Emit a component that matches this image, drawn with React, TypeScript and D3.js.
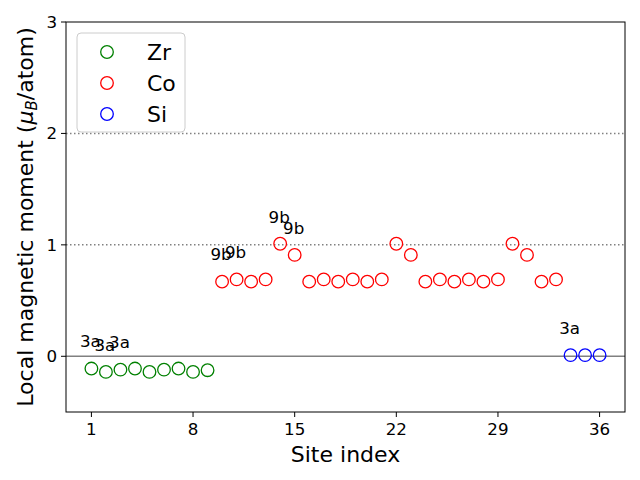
import React from 'react';
import * as d3 from 'd3';

// site indices and local magnetic moments (mu_B/atom)
const zrSites = [1, 2, 3, 4, 5, 6, 7, 8, 9];
const zrMoments = [-0.11, -0.14, -0.12, -0.11, -0.14, -0.12, -0.11, -0.14, -0.125];
const coSites = [10, 11, 12, 13, 14, 15, 16, 17, 18, 19, 20, 21, 22, 23, 24, 25, 26, 27, 28, 29, 30, 31, 32, 33];
const coMoments = [
  0.67, 0.69, 0.67, 0.69, 1.01, 0.91, 0.67, 0.69, 0.67, 0.69, 0.67, 0.69,
  1.01, 0.91, 0.67, 0.69, 0.67, 0.69, 0.67, 0.69, 1.01, 0.91, 0.67, 0.69,
];
const siSites = [34, 35, 36];
const siMoments = [0.01, 0.01, 0.01];

// Wyckoff labels attached to a few sites
const labelSites = [1, 2, 3, 10, 11, 14, 15, 34];
const labelTexts = ['3a', '3a', '3a', '9b', '9b', '9b', '9b', '3a'];

const xTicks = [1, 8, 15, 22, 29, 36];
const yTicks = [0, 1, 2, 3];
const refLines = [1, 2];

const seriesNames = ['Zr', 'Co', 'Si'];
const seriesColors = ['green', 'red', 'blue'];

const W = 640,
  H = 480;
const margin = { top: 22, right: 15, bottom: 68, left: 66 };
const font = 'DejaVu Sans, sans-serif';

export default function App() {
  const x = d3.scaleLinear().domain([-0.75, 37.75]).range([margin.left, W - margin.right]);
  const y = d3.scaleLinear().domain([-0.5, 3]).range([H - margin.bottom, margin.top]);

  const series = [
    { sites: zrSites, vals: zrMoments },
    { sites: coSites, vals: coMoments },
    { sites: siSites, vals: siMoments },
  ];
  const allSites = [...zrSites, ...coSites, ...siSites];
  const allVals = [...zrMoments, ...coMoments, ...siMoments];

  const x0 = margin.left,
    x1 = W - margin.right,
    y0 = margin.top,
    y1 = H - margin.bottom;

  return (
    <svg
      width={W}
      height={H}
      style={{ position: 'absolute', left: 0, top: 0, background: '#fff' }}
      fontFamily={font}
    >
      {/* reference lines */}
      <line x1={x0} x2={x1} y1={y(0)} y2={y(0)} stroke="gray" strokeWidth={1.5} />
      {refLines.map((v) => (
        <line
          key={v}
          x1={x0}
          x2={x1}
          y1={y(v)}
          y2={y(v)}
          stroke="gray"
          strokeWidth={1.5}
          strokeDasharray="1.5,2.5"
        />
      ))}

      {/* points */}
      {series.map((s, i) =>
        s.sites.map((site, j) => (
          <circle
            key={i + '-' + j}
            cx={x(site)}
            cy={y(s.vals[j])}
            r={6.3}
            fill="none"
            stroke={seriesColors[i]}
            strokeWidth={1.3}
          />
        )),
      )}

      {/* site labels */}
      {labelSites.map((site, i) => {
        const v = allVals[allSites.indexOf(site)];
        return (
          <text key={'l' + i} x={x(site) - 1} y={y(v + 0.19)} fontSize={16.7} textAnchor="middle">
            {labelTexts[i]}
          </text>
        );
      })}

      {/* axes frame */}
      <rect x={x0} y={y0} width={x1 - x0} height={y1 - y0} fill="none" stroke="#000" strokeWidth={1} />

      {/* x ticks */}
      {xTicks.map((t) => (
        <g key={'x' + t}>
          <line x1={x(t)} x2={x(t)} y1={y1} y2={y1 + 5} stroke="#000" />
          <text x={x(t)} y={y1 + 23} fontSize={16.7} textAnchor="middle">
            {t}
          </text>
        </g>
      ))}

      {/* y ticks */}
      {yTicks.map((t) => (
        <g key={'y' + t}>
          <line x1={x0 - 5} x2={x0} y1={y(t)} y2={y(t)} stroke="#000" />
          <text x={x0 - 9} y={y(t) + 6} fontSize={16.7} textAnchor="end">
            {t}
          </text>
        </g>
      ))}

      {/* axis labels */}
      <text x={(x0 + x1) / 2} y={462} fontSize={22} textAnchor="middle">
        Site index
      </text>
      <text transform={`translate(33,${(y0 + y1) / 2}) rotate(-90)`} fontSize={22} textAnchor="middle">
        Local magnetic moment (<tspan fontStyle="italic">μ</tspan>
        <tspan fontStyle="italic" fontSize={15} dy={4}>
          B
        </tspan>
        <tspan dy={-4}>/atom)</tspan>
      </text>

      {/* legend */}
      <rect x={77} y={33} width={108} height={99} rx={4} fill="#fff" fillOpacity={0.8} stroke="#ccc" />
      {seriesNames.map((n, i) => (
        <g key={n}>
          <circle cx={107} cy={52 + i * 31} r={6.3} fill="none" stroke={seriesColors[i]} strokeWidth={1.3} />
          <text x={147} y={60 + i * 31} fontSize={22}>
            {n}
          </text>
        </g>
      ))}
    </svg>
  );
}
